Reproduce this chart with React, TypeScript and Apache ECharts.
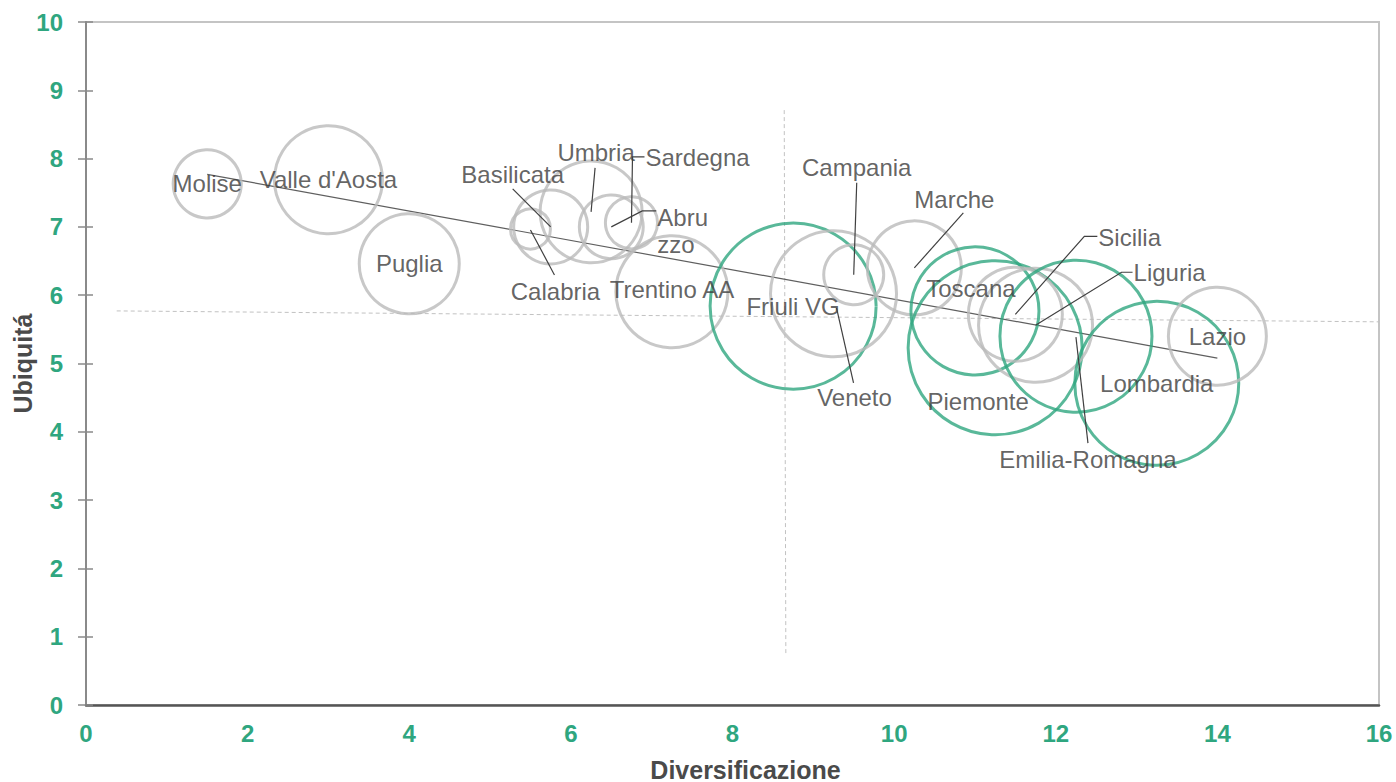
import React, { useEffect, useRef } from "react";
import * as echarts from "echarts";

// ---- data ----
const regioni = [
  "Molise", "Valle d'Aosta", "Puglia", "Calabria", "Basilicata", "Umbria", "Abruzzo",
  "Sardegna", "Trentino AA", "Friuli VG", "Veneto", "Campania", "Marche", "Toscana",
  "Piemonte", "Sicilia", "Liguria", "Emilia-Romagna", "Lombardia", "Lazio",
];
const diversificazione = [1.5, 3.0, 4.0, 5.5, 5.75, 6.25, 6.5, 6.75, 7.25, 8.75, 9.25, 9.5, 10.25, 11.0, 11.25, 11.5, 11.75, 12.25, 13.25, 14.0];
const ubiquita = [7.63, 7.69, 6.46, 6.97, 7.0, 7.22, 7.0, 7.06, 6.05, 5.84, 6.02, 6.3, 6.4, 5.77, 5.23, 5.72, 5.56, 5.4, 4.71, 5.4];
const peso = [11.6, 29.2, 25.0, 4.0, 13.7, 26.0, 10.2, 6.8, 31.4, 68.9, 39.7, 9.0, 22.1, 41.0, 75.7, 22.1, 32.5, 57.8, 67.2, 24.0];
// 1 = highlighted (green) regions
const gruppo = [0, 0, 0, 0, 0, 0, 0, 0, 0, 1, 0, 0, 0, 1, 1, 0, 0, 1, 1, 0];

const trendX = [1.5, 14.0];
const trendY = [7.77, 5.08];
const mediaOrizX = [0.38, 16];
const mediaOrizY = [5.77, 5.61];
const mediaVertX = [8.64, 8.66];
const mediaVertY = [8.71, 0.76];

const xTicks = { min: 0, max: 16, interval: 2 };
const yTicks = { min: 0, max: 10, interval: 1 };

// ---- label layout (pixel offsets from bubble centre) ----
const labelLayout: Record<string, { off: [number, number]; align?: string; text?: string }> = {
  "Calabria": { off: [25, 63] },
  "Basilicata": { off: [-38, -52] },
  "Umbria": { off: [5, -59] },
  "Abruzzo": { off: [46, 4], align: "left", text: "Abru\nzzo" },
  "Sardegna": { off: [14, -65], align: "left" },
  "Trentino AA": { off: [0, -2] },
  "Veneto": { off: [21, 104] },
  "Campania": { off: [3, -107] },
  "Marche": { off: [40, -68] },
  "Toscana": { off: [-4, -22] },
  "Piemonte": { off: [-17, 54] },
  "Sicilia": { off: [83, -77], align: "left" },
  "Liguria": { off: [98, -53], align: "left" },
  "Emilia-Romagna": { off: [12, 123] },
};
const leaderLines: Record<string, number[][]> = {
  "Basilicata": [[0, 0], [-38, -38]],
  "Calabria": [[0, 1], [24, 46]],
  "Umbria": [[0, 0], [4, -44]],
  "Sardegna": [[0, 0], [1, -66], [13, -66]],
  "Abruzzo": [[0, 0], [31, -16], [45, -16]],
  "Campania": [[0, 0], [3, -92]],
  "Marche": [[0, 0], [49, -55]],
  "Veneto": [[3, 14], [20, 89]],
  "Sicilia": [[0, 0], [69, -78], [82, -78]],
  "Liguria": [[0, 0], [86, -53], [97, -53]],
  "Emilia-Romagna": [[0, 1], [12, 107]],
};

const GREEN = "#2fa67f";
const GRAY = "#bababa";
const TEXT = "#3c3c3c";
const FONT = "'Liberation Sans', Arial, sans-serif";

export default function App() {
  const ref = useRef<HTMLDivElement>(null);
  useEffect(() => {
    document.body.style.margin = "0";
    if (!ref.current) return;
    const chart = echarts.init(ref.current, undefined, { renderer: "svg" });

    const bubbleData = regioni.map((n, i) => {
      const lay = labelLayout[n] || { off: [0, 0] };
      return {
        name: n,
        value: [diversificazione[i], ubiquita[i], peso[i]],
        symbolSize: 20 * Math.sqrt(peso[i]),
        itemStyle: { borderColor: gruppo[i] ? GREEN : GRAY },
        label: { offset: lay.off, align: lay.align || "center" },
      };
    });

    const leaderData = regioni
      .map((n, i) => (leaderLines[n] ? [diversificazione[i], ubiquita[i], i] : null))
      .filter((d) => d !== null);

    const option: any = {
      animation: false,
      grid: {
        left: 86, right: 17, top: 22, bottom: 77,
        outerBoundsMode: "none", containLabel: false,
        show: true, borderColor: "#c4c4c4", borderWidth: 2, backgroundColor: "transparent",
      },
      xAxis: {
        type: "value", ...xTicks,
        name: "Diversificazione", nameLocation: "middle", nameGap: 52, nameMoveOverlap: false,
        nameTextStyle: {
          fontFamily: FONT, fontWeight: "bold", fontSize: 25, color: "#4a4a4a",
          padding: [0, 0, 0, 26],
        },
        axisLine: { show: true, lineStyle: { color: "#555555", width: 2.5 } },
        axisTick: { show: false },
        splitLine: { show: false },
        axisLabel: {
          margin: 16,
          fontFamily: "'Liberation Sans Narrow', 'Arial Narrow', " + FONT,
          fontWeight: "bold", fontSize: 24, color: GREEN,
        },
      },
      yAxis: [
        {
          type: "value", ...yTicks,
          name: "Ubiquitá", nameLocation: "middle", nameGap: 51, nameRotate: 90, nameMoveOverlap: false,
          nameTextStyle: { fontFamily: FONT, fontWeight: "bold", fontSize: 25, color: "#4a4a4a" },
          axisLine: { show: true, lineStyle: { color: "#8a8a8a", width: 2 } },
          axisTick: { show: true, length: 8, lineStyle: { color: "#8a8a8a", width: 1.5 } },
          splitLine: { show: false },
          axisLabel: { margin: 23, fontFamily: FONT, fontWeight: "bold", fontSize: 24, color: GREEN },
        },
        {
          type: "value", ...yTicks, position: "left",
          axisLine: { show: false },
          axisTick: { show: true, inside: true, length: 7, lineStyle: { color: "#8a8a8a", width: 1.5 } },
          axisLabel: { show: false },
          splitLine: { show: false },
        },
      ],
      series: [
        {
          type: "line", silent: true, symbol: "none", z: 1,
          data: mediaOrizX.map((x, i) => [x, mediaOrizY[i]]),
          lineStyle: { color: "#c2c2c2", width: 1, type: [4, 3] },
        },
        {
          type: "line", silent: true, symbol: "none", z: 1,
          data: mediaVertX.map((x, i) => [x, mediaVertY[i]]),
          lineStyle: { color: "#c2c2c2", width: 1, type: [4, 3] },
        },
        {
          type: "line", silent: true, symbol: "none", z: 2,
          data: trendX.map((x, i) => [x, trendY[i]]),
          lineStyle: { color: "#5f5f5f", width: 1.2 },
        },
        {
          type: "scatter", silent: true, z: 3,
          symbol: "circle",
          data: bubbleData,
          itemStyle: { color: "transparent", borderWidth: 3 },
          label: {
            show: true, position: "inside",
            fontFamily: FONT, fontSize: 24, color: TEXT, lineHeight: 27,
            formatter: (p: any) => (labelLayout[p.name] && labelLayout[p.name].text) || p.name,
          },
        },
        {
          type: "custom", silent: true, z: 4,
          coordinateSystem: "cartesian2d",
          data: leaderData,
          renderItem: (params: any, api: any) => {
            const idx = api.value(2);
            const c = api.coord([api.value(0), api.value(1)]);
            const pts = leaderLines[regioni[idx]].map(([dx, dy]) => [c[0] + dx, c[1] + dy]);
            return {
              type: "polyline",
              shape: { points: pts },
              style: { stroke: "#404040", lineWidth: 1.2, fill: null },
            };
          },
        },
      ],
    };
    chart.setOption(option);
    return () => chart.dispose();
  }, []);
  return <div ref={ref} style={{ width: 1396, height: 782 }} />;
}
